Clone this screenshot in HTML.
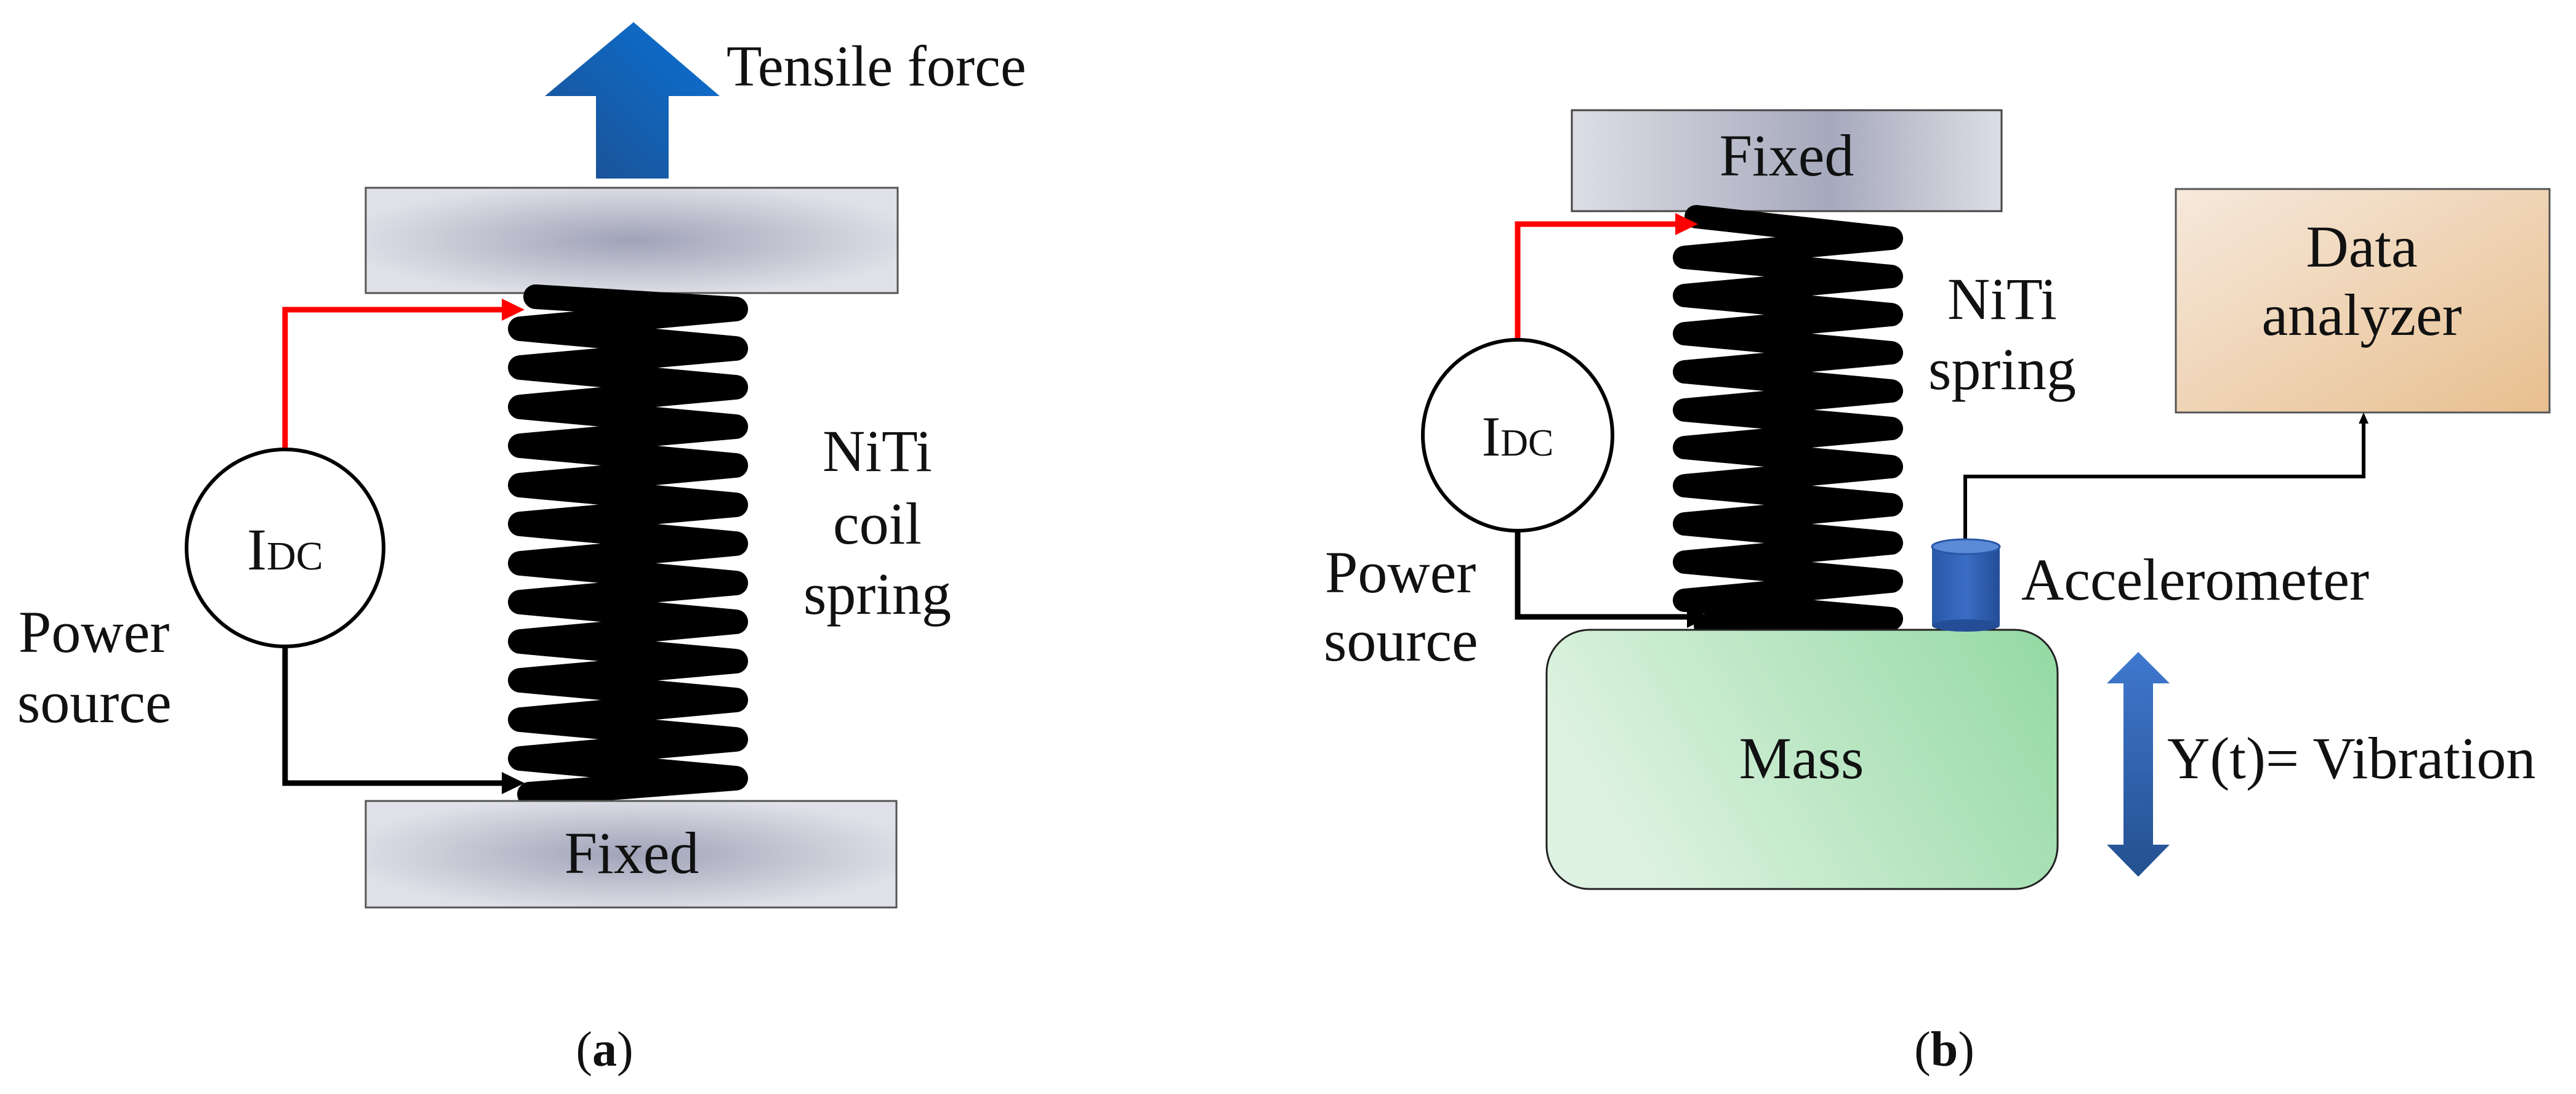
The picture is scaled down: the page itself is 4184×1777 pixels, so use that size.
<!DOCTYPE html>
<html><head><meta charset="utf-8"><style>
html,body{margin:0;padding:0;background:#fff}
svg{display:block}
text{font-family:"Liberation Serif",serif;fill:#111}
</style></head><body>
<svg width="4184" height="1777" viewBox="0 0 4184 1777" xmlns="http://www.w3.org/2000/svg">
<defs>
<radialGradient id="plate" cx="50%" cy="50%" r="55%">
<stop offset="0" stop-color="#a0a3b8"/><stop offset="1" stop-color="#e0e1e8"/></radialGradient>
<linearGradient id="plate2" x1="0" x2="1" y1="0" y2="0">
<stop offset="0" stop-color="#dcdde5"/><stop offset="0.6" stop-color="#a6a9bc"/><stop offset="1" stop-color="#dcdde5"/></linearGradient>
<linearGradient id="blueArr" x1="0" x2="1" y1="1" y2="0">
<stop offset="0" stop-color="#1d4f8f"/><stop offset="1" stop-color="#0a72d6"/></linearGradient>
<linearGradient id="blue2" x1="0" x2="0" y1="0" y2="1">
<stop offset="0" stop-color="#3f78cf"/><stop offset="1" stop-color="#24508f"/></linearGradient>
<linearGradient id="mass" x1="0" x2="1" y1="0.3" y2="0">
<stop offset="0" stop-color="#ddf2e0"/><stop offset="1" stop-color="#93d9a3"/></linearGradient>
<linearGradient id="tan" x1="0" x2="1" y1="0" y2="1">
<stop offset="0" stop-color="#f6e9dc"/><stop offset="1" stop-color="#e8bf8f"/></linearGradient>
<linearGradient id="cyl" x1="0" x2="1">
<stop offset="0" stop-color="#2a58a8"/><stop offset="0.5" stop-color="#3a6dc4"/><stop offset="1" stop-color="#234d96"/></linearGradient>
</defs>

<!-- ===== Panel (a) ===== -->
<polygon points="1029,36 1169,156 1086,156 1086,290 968,290 968,156 885,156" fill="url(#blueArr)"/>
<text x="1180" y="139" font-size="94">Tensile force</text>
<rect x="594" y="305" width="864" height="171" fill="url(#plate)" stroke="#555" stroke-width="3"/>

<polyline fill="none" stroke="#000" stroke-width="40" stroke-linejoin="round" stroke-linecap="round"
points="870,482 1195,502 845,534 1195,566 845,597 1195,629 845,661 1195,693 845,724 1195,756 845,788 1195,820 845,851 1195,883 845,915 1195,947 845,978 1195,1010 845,1042 1195,1074 845,1105 1195,1137 845,1169 1195,1201 845,1232 1195,1264 860,1290"/>

<rect x="594" y="1301" width="862" height="173" fill="url(#plate)" stroke="#555" stroke-width="3"/>
<text x="1026" y="1418" font-size="96" text-anchor="middle">Fixed</text>

<polyline points="463,729 463,503 820,503" fill="none" stroke="#f00" stroke-width="9"/>
<polygon points="852,503 815,485 815,521" fill="#f00"/>
<polyline points="463,1050 463,1272 820,1272" fill="none" stroke="#000" stroke-width="9"/>
<polygon points="852,1272 815,1254 815,1290" fill="#000"/>
<ellipse cx="463" cy="890" rx="160" ry="160" fill="#fff" stroke="#000" stroke-width="6"/>
<text x="463" y="925" font-size="96" text-anchor="middle">I<tspan font-size="66">DC</tspan></text>
<text x="30" y="1059" font-size="96">Power</text>
<text x="28" y="1173" font-size="96">source</text>
<text x="1425" y="765" font-size="96" text-anchor="middle">NiTi</text>
<text x="1425" y="883" font-size="96" text-anchor="middle">coil</text>
<text x="1425" y="997" font-size="96" text-anchor="middle">spring</text>
<text x="982" y="1731" font-size="80" text-anchor="middle">(<tspan font-weight="bold">a</tspan>)</text>

<!-- ===== Panel (b) ===== -->
<rect x="2553" y="179" width="698" height="164" fill="url(#plate2)" stroke="#444" stroke-width="3"/>
<text x="2902" y="285" font-size="96" text-anchor="middle">Fixed</text>

<polyline fill="none" stroke="#000" stroke-width="38" stroke-linejoin="round" stroke-linecap="round"
points="2755,352 3072,387 2736,418 3072,449 2736,480 3072,511 2736,542 3072,573 2736,604 3072,635 2736,666 3072,696 2736,727 3072,758 2736,789 3072,820 2736,851 3072,882 2736,913 3072,944 2736,975 3072,1005 2770,1016"/>

<polyline points="2465,552 2465,364 2725,364" fill="none" stroke="#f00" stroke-width="9"/>
<polygon points="2758,364 2721,346 2721,382" fill="#f00"/>
<polyline points="2465,862 2465,1002 2745,1002" fill="none" stroke="#000" stroke-width="9"/>
<polygon points="2776,1002 2740,984 2740,1020" fill="#000"/>
<ellipse cx="2465" cy="707" rx="154" ry="155" fill="#fff" stroke="#000" stroke-width="6"/>
<text x="2465" y="740" font-size="92" text-anchor="middle">I<tspan font-size="62">DC</tspan></text>
<text x="2152" y="962" font-size="96">Power</text>
<text x="2150" y="1073" font-size="96">source</text>
<text x="3252" y="518" font-size="96" text-anchor="middle">NiTi</text>
<text x="3252" y="632" font-size="96" text-anchor="middle">spring</text>

<rect x="3534" y="307" width="607" height="363" fill="url(#tan)" stroke="#555" stroke-width="3"/>
<text x="3836" y="433" font-size="96" text-anchor="middle">Data</text>
<text x="3836" y="544" font-size="96" text-anchor="middle">analyzer</text>

<polyline points="3192,880 3192,774 3839,774 3839,685" fill="none" stroke="#000" stroke-width="6"/>
<polygon points="3839,670 3831,688 3847,688" fill="#000"/>

<rect x="2512" y="1023" width="830" height="421" rx="70" ry="70" fill="url(#mass)" stroke="#222" stroke-width="3"/>
<text x="2926" y="1264" font-size="96" text-anchor="middle">Mass</text>

<rect x="3138" y="888" width="110" height="128" fill="url(#cyl)"/>
<ellipse cx="3193" cy="1016" rx="55" ry="10" fill="#234d96"/>
<ellipse cx="3193" cy="888" rx="55" ry="12" fill="#5b8ad6" stroke="#2a58a8" stroke-width="3"/>
<text x="3283" y="974" font-size="96">Accelerometer</text>

<polygon points="3473,1059 3524,1110 3497,1110 3497,1372 3524,1372 3473,1424 3422,1372 3449,1372 3449,1110 3422,1110" fill="url(#blue2)"/>
<text x="3520" y="1264" font-size="96">Y(t)= Vibration</text>
<text x="3158" y="1731" font-size="80" text-anchor="middle">(<tspan font-weight="bold">b</tspan>)</text>
</svg>
</body></html>
